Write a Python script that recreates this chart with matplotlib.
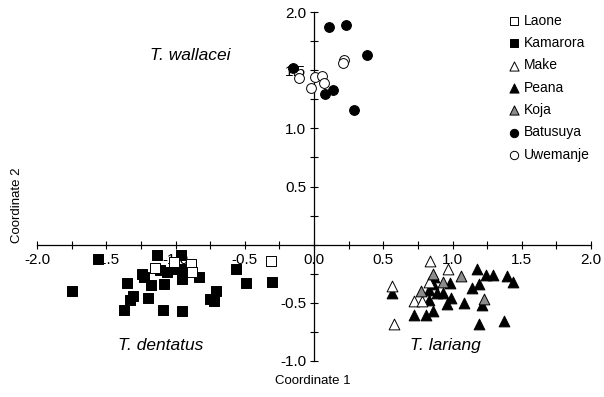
import matplotlib
matplotlib.use("Agg")
import matplotlib.pyplot as plt
import numpy as np
from matplotlib.ticker import MultipleLocator, FixedLocator, FixedFormatter

plt.rcParams['font.family'] = ['Liberation Sans', 'DejaVu Sans']

# ---- data ----
laone_x = [-1.15, -1.01, -0.89, -0.88, -0.31]
laone_y = [-0.20, -0.15, -0.17, -0.24, -0.14]

kamarora_x = [-1.56, -1.75, -1.13, -0.96, -1.11, -1.06, -0.99, -0.95, -0.95, -1.24,
              -1.35, -1.18, -1.08, -0.83, -0.56, -0.49, -0.30, -0.71, -0.75, -0.72,
              -1.20, -1.31, -1.33, -1.37, -1.09, -0.95, -1.23]
kamarora_y = [-0.12, -0.40, -0.09, -0.09, -0.22, -0.24, -0.21, -0.21, -0.30, -0.25,
              -0.33, -0.35, -0.34, -0.28, -0.21, -0.33, -0.32, -0.40, -0.47, -0.49,
              -0.46, -0.44, -0.48, -0.56, -0.56, -0.57, -0.28]

make_x = [0.84, 0.97, 0.56, 0.72, 0.58, 0.83, 0.78]
make_y = [-0.14, -0.21, -0.36, -0.49, -0.68, -0.32, -0.49]

peana_x = [1.18, 1.24, 1.29, 1.39, 1.44, 1.14, 1.19, 1.08, 1.21, 1.19, 1.37, 0.98,
           0.99, 0.93, 0.89, 0.83, 0.86, 0.83, 0.86, 0.81, 0.72, 0.56, 0.96, 0.87]
peana_y = [-0.21, -0.26, -0.26, -0.27, -0.32, -0.37, -0.34, -0.50, -0.52, -0.68, -0.66, -0.33,
           -0.46, -0.42, -0.42, -0.39, -0.34, -0.48, -0.57, -0.61, -0.61, -0.42, -0.51, -0.28]

koja_x = [0.86, 0.93, 1.06, 0.77, 1.23]
koja_y = [-0.25, -0.32, -0.27, -0.40, -0.47]

batusuya_x = [0.11, 0.23, 0.38, -0.15, 0.08, 0.14, 0.29]
batusuya_y = [1.87, 1.89, 1.63, 1.52, 1.30, 1.33, 1.16]

uwemanje_x = [-0.11, 0.01, 0.06, 0.07, -0.02, 0.22, 0.21]
uwemanje_y = [1.43, 1.44, 1.45, 1.39, 1.35, 1.59, 1.56]

xtick_vals = [-2.0, -1.5, -1.0, -0.5, 0.0, 0.5, 1.0, 1.5, 2.0]
xtick_labels = ["-2.0", "-1.5", "-1.0", "-0.5", "0.0", "0.5", "1.0", "1.5", "2.0"]
ytick_vals = [-1.0, -0.5, 0.5, 1.0, 1.5, 2.0]
ytick_labels = ["-1.0", "-0.5", "0.5", "1.0", "1.5", "2.0"]

# ---- figure ----
fig = plt.figure(figsize=(6.04, 3.97), dpi=100)
ax = fig.add_axes([37/604, 1-360.7/397, 554/604, (360.7-12.3)/397])
ax.set_xlim(-2, 2)
ax.set_ylim(-1, 2)

ax.spines['left'].set_position(('data', 0))
ax.spines['bottom'].set_position(('data', 0))
ax.spines['right'].set_visible(False)
ax.spines['top'].set_visible(False)
for s in ('left', 'bottom'):
    ax.spines[s].set_linewidth(0.9)

ax.xaxis.set_major_locator(FixedLocator(xtick_vals))
ax.xaxis.set_major_formatter(FixedFormatter(xtick_labels))
ax.xaxis.set_minor_locator(MultipleLocator(0.25))
ax.yaxis.set_major_locator(FixedLocator(ytick_vals))
ax.yaxis.set_major_formatter(FixedFormatter(ytick_labels))
ax.yaxis.set_minor_locator(MultipleLocator(0.25))
ax.tick_params(which='both', direction='inout', length=5.5, width=0.8, labelsize=11)
ax.tick_params(axis='x', which='both', pad=3.0)
ax.tick_params(axis='y', which='both', pad=3.0)

kw = dict(edgecolors='black', linewidths=0.7, zorder=3, clip_on=False)
ax.scatter(kamarora_x, kamarora_y, marker='s', s=55, facecolors='black', label='Kamarora', **kw)
ax.scatter(laone_x, laone_y, marker='s', s=55, facecolors='white', label='Laone', **kw)
ax.scatter(peana_x, peana_y, marker='^', s=60, facecolors='black', label='Peana', **kw)
ax.scatter(make_x, make_y, marker='^', s=60, facecolors='white', label='Make', **kw)
ax.scatter(koja_x, koja_y, marker='^', s=60, facecolors='#8c8c8c', label='Koja', **kw)
ax.scatter(batusuya_x, batusuya_y, marker='o', s=50, facecolors='black', label='Batusuya', **kw)
ax.scatter(uwemanje_x, uwemanje_y, marker='o', s=50, facecolors='white', label='Uwemanje', **kw)

handles, labels = ax.get_legend_handles_labels()
order = ['Laone', 'Kamarora', 'Make', 'Peana', 'Koja', 'Batusuya', 'Uwemanje']
hmap = dict(zip(labels, handles))
leg = ax.legend([hmap[o] for o in order], order, loc='upper left',
                bbox_to_anchor=(500/604, 1-8/397), bbox_transform=fig.transFigure,
                frameon=False, fontsize=10, handletextpad=0.1, labelspacing=0.6,
                handlelength=1.2, borderaxespad=0, markerscale=0.85)

ax.text(-0.89, 1.625, 'T. wallacei', style='italic', fontsize=12.5, ha='center', va='center')
ax.text(-1.11, -0.87, 'T. dentatus', style='italic', fontsize=12.5, ha='center', va='center')
ax.text(0.95, -0.87, 'T. lariang', style='italic', fontsize=12.5, ha='center', va='center')

fig.text(313/604, 1-381/397, 'Coordinate 1', ha='center', va='center', fontsize=9.5)
fig.text(17/604, 1-205/397, 'Coordinate 2', ha='center', va='center', fontsize=9.5, rotation=90)

fig.savefig('out.png', dpi=100)
